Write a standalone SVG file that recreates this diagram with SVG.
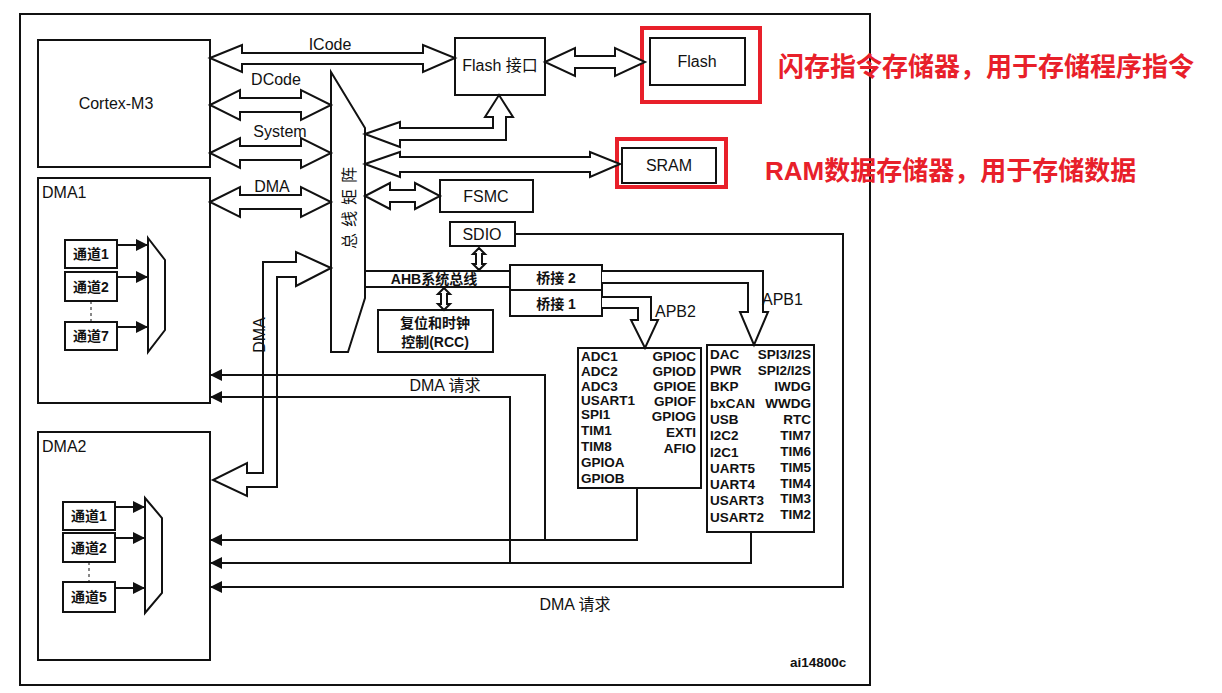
<svg xmlns="http://www.w3.org/2000/svg" width="1222" height="693" viewBox="0 0 1222 693">
<defs>
<style>
.b{fill:#fff;stroke:#111;stroke-width:2}
.o{fill:none;stroke:#111;stroke-width:2}
.ar{fill:#fff;stroke:#111;stroke-width:2;stroke-linejoin:miter}
.t{font-family:"Liberation Sans","Noto Sans CJK SC",sans-serif;font-size:16px;fill:#111}
.c{font-family:"Liberation Sans","Noto Sans CJK SC",sans-serif;font-size:14px;fill:#111;font-weight:bold}
.p{font-family:"Liberation Sans",sans-serif;font-size:13.5px;fill:#111;font-weight:bold}
.red{font-family:"Liberation Sans","Noto Sans CJK SC",sans-serif;font-size:26px;fill:#e8202a;font-weight:bold}
.rb{fill:none;stroke:#e8202a;stroke-width:4}
</style>
<marker id="ah2" viewBox="0 0 10 10" refX="10" refY="5" markerWidth="12" markerHeight="12" markerUnits="userSpaceOnUse" orient="auto"><path d="M0,0L10,5L0,10Z" fill="#111"/></marker>
</defs>
<rect width="1222" height="693" fill="#fff"/>
<rect x="20" y="14" width="850" height="671" class="o"/>

<g id="cortex"><rect x="38" y="40" width="172" height="127" class="b"/><text x="116" y="109" class="t" text-anchor="middle">Cortex-M3</text></g>
<g id="dma1"><rect x="38" y="178" width="172" height="225" class="b"/><text x="42" y="198" class="t">DMA1</text>
<rect x="65" y="240" width="52" height="28" class="b"/><text x="91" y="259" class="c" text-anchor="middle">通道1</text>
<rect x="65" y="272" width="52" height="29" class="b"/><text x="91" y="292" class="c" text-anchor="middle">通道2</text>
<rect x="65" y="322" width="52" height="28" class="b"/><text x="91" y="341" class="c" text-anchor="middle">通道7</text>
<line x1="91" y1="301" x2="91" y2="322" stroke="#111" stroke-dasharray="3,3"/>
<polygon points="148,238 165,260 165,330 148,352" class="b"/></g>
<g id="dma2"><rect x="38" y="432" width="172" height="228" class="b"/><text x="42" y="452" class="t">DMA2</text>
<rect x="63" y="502" width="52" height="28" class="b"/><text x="89" y="521" class="c" text-anchor="middle">通道1</text>
<rect x="63" y="533" width="52" height="29" class="b"/><text x="89" y="553" class="c" text-anchor="middle">通道2</text>
<rect x="63" y="582" width="52" height="30" class="b"/><text x="89" y="602" class="c" text-anchor="middle">通道5</text>
<line x1="89" y1="562" x2="89" y2="582" stroke="#111" stroke-dasharray="3,3"/>
<polygon points="145,498 162,518 162,593 145,613" class="b"/></g>

<g id="matrix"><polygon points="331,72 365,128 365,298 348,352 331,352" class="b"/><text transform="translate(355,205) rotate(-90)" class="t" font-size="17" text-anchor="middle" letter-spacing="6">总线矩阵</text></g>
<g id="flashif"><rect x="455" y="38" width="90" height="57" class="b"/><text x="500" y="71" class="t" text-anchor="middle">Flash 接口</text></g>
<g id="flash"><rect x="650" y="38" width="95" height="47" class="b"/><text x="697" y="67" class="t" text-anchor="middle">Flash</text><rect x="642" y="28" width="118" height="74" class="rb"/></g>
<g id="sram"><rect x="622" y="148" width="94" height="35" class="b"/><text x="669" y="171" class="t" text-anchor="middle">SRAM</text><rect x="617" y="139" width="109" height="48" class="rb"/></g>
<g id="fsmc"><rect x="440" y="180" width="93" height="32" class="b"/><text x="486" y="202" class="t" text-anchor="middle">FSMC</text></g>
<g id="sdio"><rect x="450" y="222" width="65" height="24" class="b"/><text x="482" y="240" class="t" text-anchor="middle">SDIO</text></g>
<g id="rcc"><rect x="378" y="310" width="115" height="42" class="b"/><text x="435" y="328" class="c" text-anchor="middle" font-size="15">复位和时钟</text><text x="435" y="347" class="c" text-anchor="middle" font-size="15">控制(RCC)</text></g>
<g id="bridge2"><rect x="510" y="265" width="92" height="25" class="b"/><text x="556" y="283" class="c" text-anchor="middle" font-weight="normal" font-size="15">桥接 2</text></g>
<g id="bridge1"><rect x="510" y="290" width="92" height="26" class="b"/><text x="556" y="309" class="c" text-anchor="middle" font-weight="normal" font-size="15">桥接 1</text></g>
<g id="apb2"><rect x="578" y="348" width="123" height="140" class="b"/>
<text class="p"><tspan x="581" y="361">ADC1</tspan><tspan x="581" y="376">ADC2</tspan><tspan x="581" y="391">ADC3</tspan><tspan x="581" y="405">USART1</tspan><tspan x="581" y="419">SPI1</tspan><tspan x="581" y="435">TIM1</tspan><tspan x="581" y="451">TIM8</tspan><tspan x="581" y="467">GPIOA</tspan><tspan x="581" y="483">GPIOB</tspan></text>
<text class="p" text-anchor="end"><tspan x="696" y="361">GPIOC</tspan><tspan x="696" y="376">GPIOD</tspan><tspan x="696" y="391">GPIOE</tspan><tspan x="696" y="406">GPIOF</tspan><tspan x="696" y="421">GPIOG</tspan><tspan x="696" y="437">EXTI</tspan><tspan x="696" y="453">AFIO</tspan></text></g>
<g id="apb1"><rect x="707" y="345" width="107" height="187" class="b"/>
<text class="p"><tspan x="710" y="359">DAC</tspan><tspan x="710" y="375">PWR</tspan><tspan x="710" y="391">BKP</tspan><tspan x="710" y="408">bxCAN</tspan><tspan x="710" y="424">USB</tspan><tspan x="710" y="440">I2C2</tspan><tspan x="710" y="457">I2C1</tspan><tspan x="710" y="473">UART5</tspan><tspan x="710" y="489">UART4</tspan><tspan x="710" y="505">USART3</tspan><tspan x="710" y="522">USART2</tspan></text>
<text class="p" text-anchor="end"><tspan x="811" y="359">SPI3/I2S</tspan><tspan x="811" y="375">SPI2/I2S</tspan><tspan x="811" y="391">IWDG</tspan><tspan x="811" y="408">WWDG</tspan><tspan x="811" y="424">RTC</tspan><tspan x="811" y="440">TIM7</tspan><tspan x="811" y="456">TIM6</tspan><tspan x="811" y="472">TIM5</tspan><tspan x="811" y="488">TIM4</tspan><tspan x="811" y="503">TIM3</tspan><tspan x="811" y="519">TIM2</tspan></text></g>

<g id="connectors">
<path class="ar" d="M210,58 L242,45 L242,53 L423,53 L423,45 L455,58 L423,72 L423,64 L242,64 L242,72 Z"/>
<path class="ar" d="M210,105 L240,90 L240,98 L301,98 L301,90 L331,105 L301,120 L301,112 L240,112 L240,120 Z"/>
<path class="ar" d="M210,153 L240,138 L240,146 L301,146 L301,138 L331,153 L301,168 L301,160 L240,160 L240,168 Z"/>
<path class="ar" d="M210,202 L240,187 L240,195 L301,195 L301,187 L331,202 L301,217 L301,209 L240,209 L240,217 Z"/>
<path class="ar" d="M545,62 L575,48 L575,56 L615,56 L615,48 L645,62 L615,76 L615,68 L575,68 L575,76 Z"/>
<path class="ar" d="M365,134 L400,122 L400,128 L493,128 L493,117 L485,117 L499,95 L513,117 L506,117 L506,140 L400,140 L400,147 Z"/>
<path class="ar" d="M365,164 L400,152 L400,157 L590,157 L590,152 L620,164 L590,177 L590,172 L400,172 L400,177 Z"/>
<path class="ar" d="M365,196 L390,183 L390,190 L415,190 L415,183 L440,196 L415,209 L415,202 L390,202 L390,209 Z"/>
<path class="ar" d="M331,268 L296,252 L296,262 L263,262 L263,473 L247,473 L247,463 L213,480 L247,496 L247,487 L277,487 L277,277 L296,277 L296,286 Z"/>
<text transform="translate(265,335) rotate(-90)" class="t" text-anchor="middle">DMA</text>
<text x="330" y="50" class="t" text-anchor="middle">ICode</text>
<text x="276" y="85" class="t" text-anchor="middle">DCode</text>
<text x="280" y="137" class="t" text-anchor="middle">System</text>
<text x="272" y="192" class="t" text-anchor="middle">DMA</text>
<line x1="365" y1="271" x2="510" y2="271" class="o"/>
<line x1="365" y1="287" x2="510" y2="287" class="o"/>
<text x="434" y="284" class="c" text-anchor="middle">AHB系统总线</text>
<path class="ar" d="M479,248 L485,254 L482,254 L482,264 L485,264 L479,270 L473,264 L476,264 L476,254 L473,254 Z"/>
<path class="ar" d="M444,288 L450,294 L447,294 L447,304 L450,304 L444,310 L438,304 L441,304 L441,294 L438,294 Z"/>
<path class="ar" d="M602,271 L763,271 L763,312 L768,312 L754,345 L740,312 L748,312 L748,283 L602,283"/>
<path class="ar" d="M602,297 L651,297 L651,320 L658,320 L645,348 L631,320 L638,320 L638,308 L602,308"/>
<text x="762" y="305" class="t">APB1</text>
<text x="655" y="317" class="t">APB2</text>
<polyline points="515,234 843,234 843,587 210,587" class="o" marker-end="url(#ah2)"/>
<polyline points="545,540 545,375 210,375" class="o" marker-end="url(#ah2)"/>
<polyline points="510,563 510,397 210,397" class="o" marker-end="url(#ah2)"/>
<polyline points="637,488 637,540 210,540" class="o" marker-end="url(#ah2)"/>
<polyline points="751,532 751,563 210,563" class="o" marker-end="url(#ah2)"/>
<line x1="117" y1="245" x2="148" y2="245" class="o" marker-end="url(#ah2)"/>
<line x1="117" y1="277" x2="148" y2="277" class="o" marker-end="url(#ah2)"/>
<line x1="117" y1="327" x2="148" y2="327" class="o" marker-end="url(#ah2)"/>
<line x1="115" y1="507" x2="145" y2="507" class="o" marker-end="url(#ah2)"/>
<line x1="115" y1="538" x2="145" y2="538" class="o" marker-end="url(#ah2)"/>
<line x1="115" y1="588" x2="145" y2="588" class="o" marker-end="url(#ah2)"/>
<text x="445" y="391" class="t" text-anchor="middle">DMA 请求</text>
<text x="575" y="610" class="t" text-anchor="middle">DMA 请求</text>
</g>
<text x="790" y="667" class="p" font-weight="normal" font-size="11">ai14800c</text>
<text x="778" y="76" class="red">闪存指令存储器，用于存储程序指令</text>
<text x="765" y="180" class="red">RAM数据存储器，用于存储数据</text>
</svg>
